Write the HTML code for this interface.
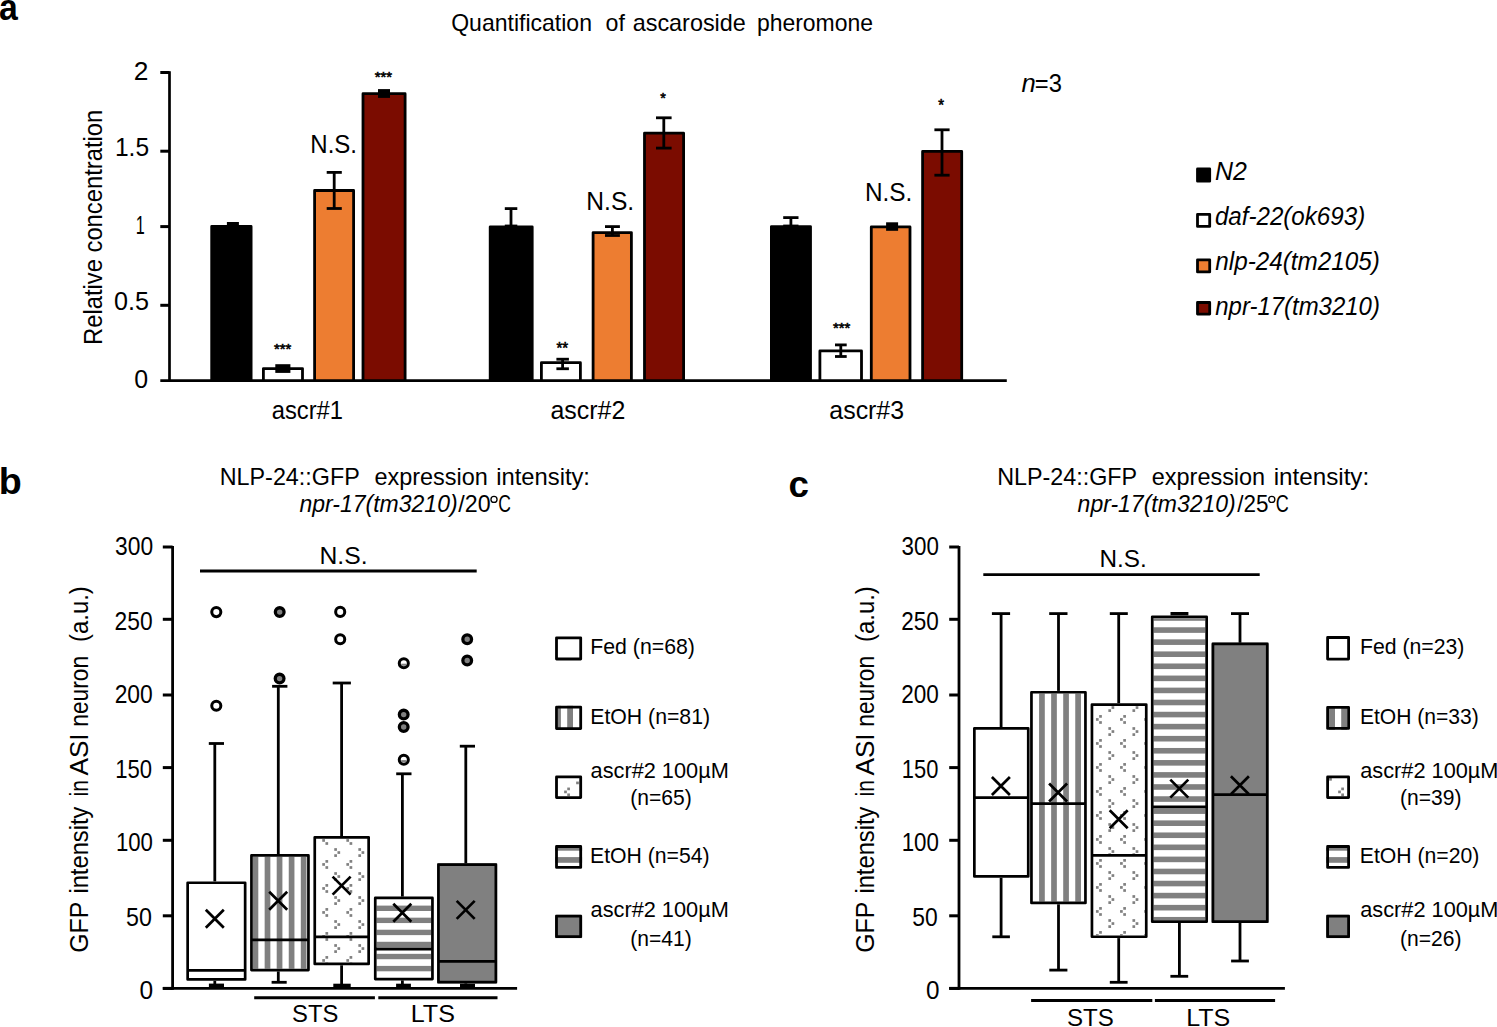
<!DOCTYPE html>
<html><head><meta charset="utf-8"><style>
html,body{margin:0;padding:0;background:#fff;width:1497px;height:1027px;overflow:hidden}
svg{display:block}
text{font-family:"Liberation Sans", sans-serif;fill:#000}
</style></head><body>
<svg width="1497" height="1027" viewBox="0 0 1497 1027">
<rect width="1497" height="1027" fill="#fff"/>
<text x="-1.01" y="19.50" font-size="36" font-weight="bold" textLength="18.80" lengthAdjust="spacingAndGlyphs">a</text>
<text x="451.21" y="31.30" font-size="24" textLength="140.79" lengthAdjust="spacingAndGlyphs">Quantification</text>
<text x="605.61" y="31.30" font-size="24" textLength="19.36" lengthAdjust="spacingAndGlyphs">of</text>
<text x="632.71" y="31.30" font-size="24" textLength="113.11" lengthAdjust="spacingAndGlyphs">ascaroside</text>
<text x="756.91" y="31.30" font-size="24" textLength="116.11" lengthAdjust="spacingAndGlyphs">pheromone</text>
<line x1="169.50" y1="71.20" x2="169.50" y2="382.00" stroke="#000" stroke-width="2.7" stroke-linecap="butt"/>
<line x1="160.30" y1="72.50" x2="169.50" y2="72.50" stroke="#000" stroke-width="3.0" stroke-linecap="butt"/>
<line x1="160.30" y1="151.20" x2="169.50" y2="151.20" stroke="#000" stroke-width="3.0" stroke-linecap="butt"/>
<line x1="160.30" y1="226.60" x2="169.50" y2="226.60" stroke="#000" stroke-width="3.0" stroke-linecap="butt"/>
<line x1="160.30" y1="305.30" x2="169.50" y2="305.30" stroke="#000" stroke-width="3.0" stroke-linecap="butt"/>
<line x1="160.30" y1="380.60" x2="1006.80" y2="380.60" stroke="#000" stroke-width="2.8" stroke-linecap="butt"/>
<text x="133.68" y="80.00" font-size="25" textLength="14.67" lengthAdjust="spacingAndGlyphs">2</text>
<text x="114.96" y="155.50" font-size="25" textLength="34.13" lengthAdjust="spacingAndGlyphs">1.5</text>
<text x="135.69" y="234.10" font-size="25" textLength="9.00" lengthAdjust="spacingAndGlyphs">1</text>
<text x="114.09" y="309.80" font-size="25" textLength="35.02" lengthAdjust="spacingAndGlyphs">0.5</text>
<text x="134.30" y="388.20" font-size="25" textLength="13.86" lengthAdjust="spacingAndGlyphs">0</text>
<text transform="rotate(-90)" x="-344.96" y="102.30" font-size="25" textLength="235.16" lengthAdjust="spacingAndGlyphs">Relative concentration</text>
<rect x="211.70" y="226.50" width="39.40" height="154.10" fill="#000" stroke="#000" stroke-width="2.8" stroke-linejoin="round"/>
<rect x="263.40" y="368.60" width="39.10" height="12.00" fill="#fff" stroke="#000" stroke-width="2.8" stroke-linejoin="round"/>
<rect x="314.60" y="190.50" width="39.00" height="190.10" fill="#ED7D31" stroke="#000" stroke-width="2.8" stroke-linejoin="round"/>
<rect x="363.00" y="93.70" width="42.10" height="286.90" fill="#7B0C00" stroke="#000" stroke-width="2.8" stroke-linejoin="round"/>
<rect x="490.20" y="226.80" width="42.00" height="153.80" fill="#000" stroke="#000" stroke-width="2.8" stroke-linejoin="round"/>
<rect x="541.40" y="362.70" width="39.00" height="17.90" fill="#fff" stroke="#000" stroke-width="2.8" stroke-linejoin="round"/>
<rect x="593.10" y="232.60" width="38.30" height="148.00" fill="#ED7D31" stroke="#000" stroke-width="2.8" stroke-linejoin="round"/>
<rect x="644.50" y="133.20" width="39.10" height="247.40" fill="#7B0C00" stroke="#000" stroke-width="2.8" stroke-linejoin="round"/>
<rect x="771.40" y="226.60" width="39.10" height="154.00" fill="#000" stroke="#000" stroke-width="2.8" stroke-linejoin="round"/>
<rect x="819.90" y="350.90" width="41.60" height="29.70" fill="#fff" stroke="#000" stroke-width="2.8" stroke-linejoin="round"/>
<rect x="871.30" y="226.90" width="38.70" height="153.70" fill="#ED7D31" stroke="#000" stroke-width="2.8" stroke-linejoin="round"/>
<rect x="922.60" y="151.40" width="39.10" height="229.20" fill="#7B0C00" stroke="#000" stroke-width="2.8" stroke-linejoin="round"/>
<rect x="226.90" y="222.00" width="12.00" height="6.00" fill="#000"/>
<rect x="275.30" y="364.20" width="15.10" height="8.70" fill="#000"/>
<line x1="334.20" y1="172.40" x2="334.20" y2="208.50" stroke="#000" stroke-width="2.8" stroke-linecap="butt"/>
<line x1="326.70" y1="172.40" x2="341.80" y2="172.40" stroke="#000" stroke-width="2.8" stroke-linecap="butt"/>
<line x1="326.70" y1="208.50" x2="341.80" y2="208.50" stroke="#000" stroke-width="2.8" stroke-linecap="butt"/>
<rect x="378.00" y="89.10" width="12.00" height="8.80" fill="#000"/>
<line x1="511.00" y1="208.60" x2="511.00" y2="226.00" stroke="#000" stroke-width="2.8" stroke-linecap="butt"/>
<line x1="504.80" y1="208.60" x2="517.30" y2="208.60" stroke="#000" stroke-width="2.8" stroke-linecap="butt"/>
<line x1="504.80" y1="226.00" x2="517.30" y2="226.00" stroke="#000" stroke-width="2.8" stroke-linecap="butt"/>
<line x1="562.60" y1="359.20" x2="562.60" y2="368.75" stroke="#000" stroke-width="2.8" stroke-linecap="butt"/>
<line x1="556.40" y1="359.20" x2="568.90" y2="359.20" stroke="#000" stroke-width="2.8" stroke-linecap="butt"/>
<line x1="556.40" y1="368.75" x2="568.90" y2="368.75" stroke="#000" stroke-width="2.8" stroke-linecap="butt"/>
<line x1="612.40" y1="226.60" x2="612.40" y2="235.50" stroke="#000" stroke-width="2.8" stroke-linecap="butt"/>
<line x1="605.00" y1="226.60" x2="619.90" y2="226.60" stroke="#000" stroke-width="2.8" stroke-linecap="butt"/>
<line x1="605.00" y1="235.50" x2="619.90" y2="235.50" stroke="#000" stroke-width="2.8" stroke-linecap="butt"/>
<line x1="663.80" y1="117.80" x2="663.80" y2="148.10" stroke="#000" stroke-width="2.8" stroke-linecap="butt"/>
<line x1="656.00" y1="117.80" x2="671.60" y2="117.80" stroke="#000" stroke-width="2.8" stroke-linecap="butt"/>
<line x1="656.00" y1="148.10" x2="671.60" y2="148.10" stroke="#000" stroke-width="2.8" stroke-linecap="butt"/>
<line x1="790.90" y1="217.60" x2="790.90" y2="226.00" stroke="#000" stroke-width="2.8" stroke-linecap="butt"/>
<line x1="783.20" y1="217.60" x2="798.50" y2="217.60" stroke="#000" stroke-width="2.8" stroke-linecap="butt"/>
<line x1="783.20" y1="226.00" x2="798.50" y2="226.00" stroke="#000" stroke-width="2.8" stroke-linecap="butt"/>
<line x1="840.80" y1="344.90" x2="840.80" y2="356.50" stroke="#000" stroke-width="2.8" stroke-linecap="butt"/>
<line x1="835.00" y1="344.90" x2="846.70" y2="344.90" stroke="#000" stroke-width="2.8" stroke-linecap="butt"/>
<line x1="835.00" y1="356.50" x2="846.70" y2="356.50" stroke="#000" stroke-width="2.8" stroke-linecap="butt"/>
<rect x="886.10" y="222.30" width="12.00" height="8.50" fill="#000"/>
<line x1="942.00" y1="129.80" x2="942.00" y2="175.20" stroke="#000" stroke-width="2.8" stroke-linecap="butt"/>
<line x1="934.40" y1="129.80" x2="949.60" y2="129.80" stroke="#000" stroke-width="2.8" stroke-linecap="butt"/>
<line x1="934.40" y1="175.20" x2="949.60" y2="175.20" stroke="#000" stroke-width="2.8" stroke-linecap="butt"/>
<text x="274.04" y="354.01" font-size="15.14" textLength="17.22" lengthAdjust="spacingAndGlyphs" stroke="#000" stroke-width="0.6">***</text>
<text x="374.64" y="81.91" font-size="15.14" textLength="17.42" lengthAdjust="spacingAndGlyphs" stroke="#000" stroke-width="0.6">***</text>
<text x="556.44" y="354.30" font-size="15.71" textLength="11.70" lengthAdjust="spacingAndGlyphs" stroke="#000" stroke-width="0.6">**</text>
<text x="660.15" y="103.11" font-size="15.14" textLength="5.59" lengthAdjust="spacingAndGlyphs" stroke="#000" stroke-width="0.6">*</text>
<text x="833.04" y="333.01" font-size="15.14" textLength="17.32" lengthAdjust="spacingAndGlyphs" stroke="#000" stroke-width="0.6">***</text>
<text x="938.24" y="110.80" font-size="15.71" textLength="5.81" lengthAdjust="spacingAndGlyphs" stroke="#000" stroke-width="0.6">*</text>
<text x="310.32" y="152.50" font-size="25" textLength="46.74" lengthAdjust="spacingAndGlyphs">N.S.</text>
<text x="586.37" y="210.00" font-size="25" textLength="47.84" lengthAdjust="spacingAndGlyphs">N.S.</text>
<text x="864.99" y="200.60" font-size="25" textLength="47.40" lengthAdjust="spacingAndGlyphs">N.S.</text>
<text x="271.69" y="418.60" font-size="25" textLength="71.27" lengthAdjust="spacingAndGlyphs">ascr#1</text>
<text x="550.44" y="418.60" font-size="25" textLength="74.84" lengthAdjust="spacingAndGlyphs">ascr#2</text>
<text x="829.34" y="418.60" font-size="25" textLength="74.75" lengthAdjust="spacingAndGlyphs">ascr#3</text>
<text x="1021.55" y="92.00" font-size="25" font-style="italic" textLength="14.23" lengthAdjust="spacingAndGlyphs">n</text>
<text x="1034.81" y="92.00" font-size="25" textLength="27.10" lengthAdjust="spacingAndGlyphs">=3</text>
<rect x="1197.50" y="169.00" width="12.20" height="12.20" fill="#000" stroke="#000" stroke-width="2.8" stroke-linejoin="round"/>
<text x="1214.95" y="180.10" font-size="25" font-style="italic" textLength="31.88" lengthAdjust="spacingAndGlyphs">N2</text>
<rect x="1197.50" y="214.40" width="12.20" height="12.00" fill="#fff" stroke="#000" stroke-width="2.8" stroke-linejoin="round"/>
<text x="1214.92" y="225.10" font-size="25" font-style="italic" textLength="150.26" lengthAdjust="spacingAndGlyphs">daf-22(ok693)</text>
<rect x="1197.50" y="259.80" width="12.20" height="12.10" fill="#ED7D31" stroke="#000" stroke-width="2.8" stroke-linejoin="round"/>
<text x="1215.28" y="270.10" font-size="25" font-style="italic" textLength="164.62" lengthAdjust="spacingAndGlyphs">nlp-24(tm2105)</text>
<rect x="1197.50" y="302.50" width="12.20" height="11.60" fill="#7B0C00" stroke="#000" stroke-width="2.8" stroke-linejoin="round"/>
<text x="1215.28" y="315.10" font-size="25" font-style="italic" textLength="164.60" lengthAdjust="spacingAndGlyphs">npr-17(tm3210)</text>
<text x="-1.25" y="494.30" font-size="36" font-weight="bold" textLength="22.98" lengthAdjust="spacingAndGlyphs">b</text>
<text x="219.78" y="485.30" font-size="24" textLength="139.94" lengthAdjust="spacingAndGlyphs">NLP-24::GFP</text>
<text x="374.40" y="485.30" font-size="24" textLength="113.34" lengthAdjust="spacingAndGlyphs">expression</text>
<text x="496.30" y="485.30" font-size="24" textLength="93.67" lengthAdjust="spacingAndGlyphs">intensity:</text>
<text x="299.50" y="511.50" font-size="24" font-style="italic" textLength="158.12" lengthAdjust="spacingAndGlyphs">npr-17(tm3210)</text>
<text x="458.30" y="511.50" font-size="24" textLength="32.28" lengthAdjust="spacingAndGlyphs">/20</text>
<circle cx="494.0" cy="499.4" r="3.05" fill="none" stroke="#000" stroke-width="1.3"/>
<text x="498.22" y="512.40" font-size="24.5" textLength="12.67" lengthAdjust="spacingAndGlyphs">C</text>
<line x1="172.60" y1="546.00" x2="172.60" y2="989.80" stroke="#000" stroke-width="2.8" stroke-linecap="butt"/>
<line x1="162.80" y1="988.40" x2="172.60" y2="988.40" stroke="#000" stroke-width="3.0" stroke-linecap="butt"/>
<line x1="162.80" y1="915.80" x2="172.60" y2="915.80" stroke="#000" stroke-width="3.0" stroke-linecap="butt"/>
<line x1="162.80" y1="840.30" x2="172.60" y2="840.30" stroke="#000" stroke-width="3.0" stroke-linecap="butt"/>
<line x1="162.80" y1="767.60" x2="172.60" y2="767.60" stroke="#000" stroke-width="3.0" stroke-linecap="butt"/>
<line x1="162.80" y1="695.00" x2="172.60" y2="695.00" stroke="#000" stroke-width="3.0" stroke-linecap="butt"/>
<line x1="162.80" y1="619.30" x2="172.60" y2="619.30" stroke="#000" stroke-width="3.0" stroke-linecap="butt"/>
<line x1="162.80" y1="547.00" x2="172.60" y2="547.00" stroke="#000" stroke-width="3.0" stroke-linecap="butt"/>
<line x1="162.80" y1="988.40" x2="517.10" y2="988.40" stroke="#000" stroke-width="2.8" stroke-linecap="butt"/>
<text x="139.62" y="999.10" font-size="25.2" textLength="13.63" lengthAdjust="spacingAndGlyphs">0</text>
<text x="126.07" y="926.20" font-size="25.2" textLength="25.86" lengthAdjust="spacingAndGlyphs">50</text>
<text x="115.94" y="851.30" font-size="25.2" textLength="37.02" lengthAdjust="spacingAndGlyphs">100</text>
<text x="115.35" y="778.40" font-size="25.2" textLength="36.80" lengthAdjust="spacingAndGlyphs">150</text>
<text x="114.66" y="702.90" font-size="25.2" textLength="38.12" lengthAdjust="spacingAndGlyphs">200</text>
<text x="114.56" y="630.40" font-size="25.2" textLength="38.02" lengthAdjust="spacingAndGlyphs">250</text>
<text x="115.05" y="554.50" font-size="25.2" textLength="38.03" lengthAdjust="spacingAndGlyphs">300</text>
<line x1="200.00" y1="571.00" x2="476.70" y2="571.00" stroke="#000" stroke-width="2.8" stroke-linecap="butt"/>
<text x="319.46" y="563.90" font-size="24" textLength="48.06" lengthAdjust="spacingAndGlyphs">N.S.</text>
<line x1="254.20" y1="997.70" x2="374.90" y2="997.70" stroke="#000" stroke-width="3.0" stroke-linecap="butt"/>
<line x1="378.30" y1="997.70" x2="497.50" y2="997.70" stroke="#000" stroke-width="3.0" stroke-linecap="butt"/>
<text x="292.03" y="1022.40" font-size="24" textLength="46.30" lengthAdjust="spacingAndGlyphs">STS</text>
<text x="410.73" y="1022.40" font-size="24" textLength="44.16" lengthAdjust="spacingAndGlyphs">LTS</text>
<line x1="214.80" y1="743.50" x2="214.80" y2="882.40" stroke="#000" stroke-width="2.8" stroke-linecap="butt"/>
<line x1="214.80" y1="979.80" x2="214.80" y2="985.90" stroke="#000" stroke-width="2.8" stroke-linecap="butt"/>
<line x1="208.80" y1="743.50" x2="224.00" y2="743.50" stroke="#000" stroke-width="2.8" stroke-linecap="butt"/>
<rect x="208.90" y="983.60" width="15.10" height="4.80" fill="#000"/>
<rect x="186.30" y="881.40" width="60.20" height="99.40" fill="#fff"/>
<rect x="187.65" y="882.75" width="57.50" height="96.70" fill="none" stroke="#000" stroke-width="2.7" stroke-linejoin="round"/>
<line x1="187.30" y1="970.40" x2="245.50" y2="970.40" stroke="#000" stroke-width="2.8" stroke-linecap="butt"/>
<path d="M205.80,909.80L223.80,927.80M205.80,927.80L223.80,909.80" stroke="#000" stroke-width="2.7" fill="none"/>
<circle cx="216.30" cy="612.10" r="4.55" fill="#fff" stroke="#000" stroke-width="3.0"/>
<circle cx="216.30" cy="705.80" r="4.55" fill="#fff" stroke="#000" stroke-width="3.0"/>
<line x1="278.30" y1="686.30" x2="278.30" y2="855.10" stroke="#000" stroke-width="2.8" stroke-linecap="butt"/>
<line x1="278.30" y1="970.40" x2="278.30" y2="982.30" stroke="#000" stroke-width="2.8" stroke-linecap="butt"/>
<line x1="272.10" y1="686.30" x2="287.40" y2="686.30" stroke="#000" stroke-width="2.8" stroke-linecap="butt"/>
<line x1="271.60" y1="982.30" x2="286.70" y2="982.30" stroke="#000" stroke-width="2.8" stroke-linecap="butt"/>
<rect x="250.10" y="854.10" width="59.70" height="117.30" fill="#fff"/>
<rect x="252.80" y="856.80" width="5.50" height="111.90" fill="#808080"/>
<rect x="264.65" y="856.80" width="5.70" height="111.90" fill="#808080"/>
<rect x="276.70" y="856.80" width="5.70" height="111.90" fill="#808080"/>
<rect x="288.75" y="856.80" width="5.70" height="111.90" fill="#808080"/>
<rect x="300.80" y="856.80" width="5.70" height="111.90" fill="#808080"/>
<rect x="251.45" y="855.45" width="57.00" height="114.60" fill="none" stroke="#000" stroke-width="2.7" stroke-linejoin="round"/>
<line x1="251.10" y1="939.90" x2="308.80" y2="939.90" stroke="#000" stroke-width="2.8" stroke-linecap="butt"/>
<path d="M269.20,891.70L287.20,909.70M269.20,909.70L287.20,891.70" stroke="#000" stroke-width="2.7" fill="none"/>
<circle cx="279.70" cy="612.10" r="4.35" fill="#808080" stroke="#000" stroke-width="3.3"/>
<circle cx="279.60" cy="678.60" r="4.35" fill="#808080" stroke="#000" stroke-width="3.3"/>
<line x1="341.60" y1="683.00" x2="341.60" y2="837.00" stroke="#000" stroke-width="2.8" stroke-linecap="butt"/>
<line x1="341.60" y1="964.30" x2="341.60" y2="986.00" stroke="#000" stroke-width="2.8" stroke-linecap="butt"/>
<line x1="332.70" y1="683.00" x2="350.90" y2="683.00" stroke="#000" stroke-width="2.8" stroke-linecap="butt"/>
<rect x="333.30" y="983.70" width="17.40" height="4.70" fill="#000"/>
<rect x="313.40" y="836.00" width="56.60" height="129.30" fill="#fff"/>
<g fill="#808080"><rect x="325.45" y="838.70" width="2.70" height="0.05"/><rect x="322.25" y="839.10" width="2.70" height="2.70"/><rect x="325.45" y="842.15" width="2.70" height="2.70"/><rect x="334.25" y="848.15" width="2.70" height="2.70"/><rect x="337.45" y="851.20" width="2.70" height="2.70"/><rect x="334.25" y="854.25" width="2.70" height="2.70"/><rect x="325.45" y="860.05" width="2.70" height="2.70"/><rect x="322.25" y="863.10" width="2.70" height="2.70"/><rect x="325.45" y="866.15" width="2.70" height="2.70"/><rect x="334.25" y="872.15" width="2.70" height="2.70"/><rect x="337.45" y="875.20" width="2.70" height="2.70"/><rect x="334.25" y="878.25" width="2.70" height="2.70"/><rect x="325.45" y="884.05" width="2.70" height="2.70"/><rect x="322.25" y="887.10" width="2.70" height="2.70"/><rect x="325.45" y="890.15" width="2.70" height="2.70"/><rect x="334.25" y="896.15" width="2.70" height="2.70"/><rect x="337.45" y="899.20" width="2.70" height="2.70"/><rect x="334.25" y="902.25" width="2.70" height="2.70"/><rect x="325.45" y="908.05" width="2.70" height="2.70"/><rect x="322.25" y="911.10" width="2.70" height="2.70"/><rect x="325.45" y="914.15" width="2.70" height="2.70"/><rect x="334.25" y="920.15" width="2.70" height="2.70"/><rect x="337.45" y="923.20" width="2.70" height="2.70"/><rect x="334.25" y="926.25" width="2.70" height="2.70"/><rect x="325.45" y="932.05" width="2.70" height="2.70"/><rect x="322.25" y="935.10" width="2.70" height="2.70"/><rect x="325.45" y="938.15" width="2.70" height="2.70"/><rect x="334.25" y="944.15" width="2.70" height="2.70"/><rect x="337.45" y="947.20" width="2.70" height="2.70"/><rect x="334.25" y="950.25" width="2.70" height="2.70"/><rect x="325.45" y="956.05" width="2.70" height="2.70"/><rect x="322.25" y="959.10" width="2.70" height="2.70"/><rect x="325.45" y="962.15" width="2.70" height="0.45"/><rect x="349.55" y="838.70" width="2.70" height="0.05"/><rect x="346.35" y="839.10" width="2.70" height="2.70"/><rect x="349.55" y="842.15" width="2.70" height="2.70"/><rect x="358.35" y="848.15" width="2.70" height="2.70"/><rect x="361.55" y="851.20" width="2.70" height="2.70"/><rect x="358.35" y="854.25" width="2.70" height="2.70"/><rect x="349.55" y="860.05" width="2.70" height="2.70"/><rect x="346.35" y="863.10" width="2.70" height="2.70"/><rect x="349.55" y="866.15" width="2.70" height="2.70"/><rect x="358.35" y="872.15" width="2.70" height="2.70"/><rect x="361.55" y="875.20" width="2.70" height="2.70"/><rect x="358.35" y="878.25" width="2.70" height="2.70"/><rect x="349.55" y="884.05" width="2.70" height="2.70"/><rect x="346.35" y="887.10" width="2.70" height="2.70"/><rect x="349.55" y="890.15" width="2.70" height="2.70"/><rect x="358.35" y="896.15" width="2.70" height="2.70"/><rect x="361.55" y="899.20" width="2.70" height="2.70"/><rect x="358.35" y="902.25" width="2.70" height="2.70"/><rect x="349.55" y="908.05" width="2.70" height="2.70"/><rect x="346.35" y="911.10" width="2.70" height="2.70"/><rect x="349.55" y="914.15" width="2.70" height="2.70"/><rect x="358.35" y="920.15" width="2.70" height="2.70"/><rect x="361.55" y="923.20" width="2.70" height="2.70"/><rect x="358.35" y="926.25" width="2.70" height="2.70"/><rect x="349.55" y="932.05" width="2.70" height="2.70"/><rect x="346.35" y="935.10" width="2.70" height="2.70"/><rect x="349.55" y="938.15" width="2.70" height="2.70"/><rect x="358.35" y="944.15" width="2.70" height="2.70"/><rect x="361.55" y="947.20" width="2.70" height="2.70"/><rect x="358.35" y="950.25" width="2.70" height="2.70"/><rect x="349.55" y="956.05" width="2.70" height="2.70"/><rect x="346.35" y="959.10" width="2.70" height="2.70"/><rect x="349.55" y="962.15" width="2.70" height="0.45"/></g>
<rect x="314.75" y="837.35" width="53.90" height="126.60" fill="none" stroke="#000" stroke-width="2.7" stroke-linejoin="round"/>
<line x1="314.40" y1="936.80" x2="369.00" y2="936.80" stroke="#000" stroke-width="2.8" stroke-linecap="butt"/>
<path d="M332.60,876.60L350.60,894.60M332.60,894.60L350.60,876.60" stroke="#000" stroke-width="2.7" fill="none"/>
<circle cx="340.20" cy="611.90" r="4.55" fill="#fff" stroke="#000" stroke-width="3.0"/>
<circle cx="340.20" cy="639.20" r="4.55" fill="#fff" stroke="#000" stroke-width="3.0"/>
<line x1="402.40" y1="773.80" x2="402.40" y2="897.60" stroke="#000" stroke-width="2.8" stroke-linecap="butt"/>
<line x1="402.40" y1="979.40" x2="402.40" y2="986.00" stroke="#000" stroke-width="2.8" stroke-linecap="butt"/>
<line x1="396.20" y1="773.80" x2="411.50" y2="773.80" stroke="#000" stroke-width="2.8" stroke-linecap="butt"/>
<rect x="396.10" y="983.70" width="14.80" height="4.70" fill="#000"/>
<rect x="373.90" y="896.60" width="59.90" height="83.80" fill="#fff"/>
<rect x="376.60" y="905.60" width="54.50" height="5.40" fill="#808080"/>
<rect x="376.60" y="917.66" width="54.50" height="5.40" fill="#808080"/>
<rect x="376.60" y="929.72" width="54.50" height="5.40" fill="#808080"/>
<rect x="376.60" y="941.78" width="54.50" height="5.40" fill="#808080"/>
<rect x="376.60" y="953.84" width="54.50" height="5.40" fill="#808080"/>
<rect x="376.60" y="965.90" width="54.50" height="5.40" fill="#808080"/>
<rect x="375.25" y="897.95" width="57.20" height="81.10" fill="none" stroke="#000" stroke-width="2.7" stroke-linejoin="round"/>
<line x1="374.90" y1="949.00" x2="432.80" y2="949.00" stroke="#000" stroke-width="2.8" stroke-linecap="butt"/>
<path d="M393.30,903.80L411.30,921.80M393.30,921.80L411.30,903.80" stroke="#000" stroke-width="2.7" fill="none"/>
<circle cx="403.80" cy="663.30" r="4.55" fill="#fff"/>
<rect x="401.20" y="663.70" width="5.20" height="2.10" fill="#808080"/>
<circle cx="403.80" cy="663.30" r="4.55" fill="none" stroke="#000" stroke-width="3.0"/>
<circle cx="403.70" cy="714.60" r="4.35" fill="#808080" stroke="#000" stroke-width="3.3"/>
<circle cx="403.70" cy="727.00" r="4.35" fill="#808080" stroke="#000" stroke-width="3.3"/>
<circle cx="403.80" cy="759.70" r="4.55" fill="#fff"/>
<rect x="401.20" y="760.10" width="5.20" height="2.10" fill="#808080"/>
<circle cx="403.80" cy="759.70" r="4.55" fill="none" stroke="#000" stroke-width="3.0"/>
<line x1="465.80" y1="746.20" x2="465.80" y2="864.20" stroke="#000" stroke-width="2.8" stroke-linecap="butt"/>
<line x1="465.80" y1="982.50" x2="465.80" y2="986.00" stroke="#000" stroke-width="2.8" stroke-linecap="butt"/>
<line x1="459.80" y1="746.20" x2="475.00" y2="746.20" stroke="#000" stroke-width="2.8" stroke-linecap="butt"/>
<rect x="460.00" y="983.70" width="15.00" height="4.70" fill="#000"/>
<rect x="437.10" y="863.20" width="60.10" height="120.30" fill="#808080"/>
<rect x="438.45" y="864.55" width="57.40" height="117.60" fill="none" stroke="#000" stroke-width="2.7" stroke-linejoin="round"/>
<line x1="438.10" y1="961.30" x2="496.20" y2="961.30" stroke="#000" stroke-width="2.8" stroke-linecap="butt"/>
<path d="M456.70,900.90L474.70,918.90M456.70,918.90L474.70,900.90" stroke="#000" stroke-width="2.7" fill="none"/>
<circle cx="467.20" cy="639.30" r="4.35" fill="#808080" stroke="#000" stroke-width="3.3"/>
<circle cx="467.20" cy="660.50" r="4.35" fill="#808080" stroke="#000" stroke-width="3.3"/>
<text transform="rotate(-90)" x="-952.84" y="88.00" font-size="25" textLength="51.06" lengthAdjust="spacingAndGlyphs">GFP</text>
<text transform="rotate(-90)" x="-893.60" y="88.00" font-size="25" textLength="86.99" lengthAdjust="spacingAndGlyphs">intensity</text>
<text transform="rotate(-90)" x="-796.42" y="88.00" font-size="25" textLength="16.41" lengthAdjust="spacingAndGlyphs">in</text>
<text transform="rotate(-90)" x="-775.57" y="88.00" font-size="25" textLength="42.17" lengthAdjust="spacingAndGlyphs">ASI</text>
<text transform="rotate(-90)" x="-726.63" y="88.00" font-size="25" textLength="70.64" lengthAdjust="spacingAndGlyphs">neuron</text>
<text transform="rotate(-90)" x="-641.89" y="88.00" font-size="25" textLength="55.62" lengthAdjust="spacingAndGlyphs">(a.u.)</text>
<rect x="555.10" y="636.40" width="27.00" height="24.00" fill="#fff"/>
<rect x="556.50" y="637.80" width="24.20" height="21.20" fill="none" stroke="#000" stroke-width="2.8" stroke-linejoin="round"/>
<rect x="555.10" y="705.80" width="27.00" height="24.20" fill="#fff"/>
<rect x="558.00" y="705.80" width="2.90" height="24.20" fill="#808080"/>
<rect x="567.20" y="705.80" width="5.80" height="24.20" fill="#808080"/>
<rect x="556.50" y="707.20" width="24.20" height="21.40" fill="none" stroke="#000" stroke-width="2.8" stroke-linejoin="round"/>
<rect x="555.10" y="775.50" width="27.00" height="23.50" fill="#fff"/>
<rect x="576.15" y="781.55" width="2.70" height="2.70" fill="#808080"/>
<rect x="567.25" y="787.55" width="2.70" height="2.70" fill="#808080"/>
<rect x="564.15" y="790.55" width="2.70" height="2.70" fill="#808080"/>
<rect x="567.25" y="793.45" width="2.70" height="2.70" fill="#808080"/>
<rect x="556.50" y="776.90" width="24.20" height="20.70" fill="none" stroke="#000" stroke-width="2.8" stroke-linejoin="round"/>
<rect x="555.10" y="845.10" width="27.00" height="23.70" fill="#fff"/>
<rect x="555.10" y="847.80" width="27.00" height="2.90" fill="#808080"/>
<rect x="555.10" y="857.10" width="27.00" height="5.70" fill="#808080"/>
<rect x="556.50" y="846.50" width="24.20" height="20.90" fill="none" stroke="#000" stroke-width="2.8" stroke-linejoin="round"/>
<rect x="555.10" y="914.80" width="27.00" height="23.30" fill="#808080"/>
<rect x="556.50" y="916.20" width="24.20" height="20.50" fill="none" stroke="#000" stroke-width="2.8" stroke-linejoin="round"/>
<text x="590.24" y="654.40" font-size="22" textLength="104.68" lengthAdjust="spacingAndGlyphs">Fed (n=68)</text>
<text x="590.25" y="724.10" font-size="22" textLength="119.81" lengthAdjust="spacingAndGlyphs">EtOH (n=81)</text>
<text x="590.58" y="778.40" font-size="22" textLength="138.21" lengthAdjust="spacingAndGlyphs">ascr#2 100µM</text>
<text x="630.28" y="805.10" font-size="22" textLength="61.45" lengthAdjust="spacingAndGlyphs">(n=65)</text>
<text x="590.05" y="863.10" font-size="22" textLength="119.60" lengthAdjust="spacingAndGlyphs">EtOH (n=54)</text>
<text x="590.58" y="916.50" font-size="22" textLength="138.21" lengthAdjust="spacingAndGlyphs">ascr#2 100µM</text>
<text x="630.28" y="945.90" font-size="22" textLength="61.45" lengthAdjust="spacingAndGlyphs">(n=41)</text>
<text x="788.43" y="497.30" font-size="36" font-weight="bold" textLength="20.42" lengthAdjust="spacingAndGlyphs">c</text>
<text x="997.18" y="485.30" font-size="24" textLength="139.94" lengthAdjust="spacingAndGlyphs">NLP-24::GFP</text>
<text x="1151.80" y="485.30" font-size="24" textLength="113.34" lengthAdjust="spacingAndGlyphs">expression</text>
<text x="1273.67" y="485.30" font-size="24" textLength="95.55" lengthAdjust="spacingAndGlyphs">intensity:</text>
<text x="1077.60" y="511.50" font-size="24" font-style="italic" textLength="158.12" lengthAdjust="spacingAndGlyphs">npr-17(tm3210)</text>
<text x="1237.20" y="511.50" font-size="24" textLength="31.20" lengthAdjust="spacingAndGlyphs">/25</text>
<circle cx="1271.8" cy="499.4" r="3.05" fill="none" stroke="#000" stroke-width="1.3"/>
<text x="1275.80" y="512.30" font-size="24.5" textLength="13.02" lengthAdjust="spacingAndGlyphs">C</text>
<line x1="959.00" y1="546.00" x2="959.00" y2="989.80" stroke="#000" stroke-width="2.8" stroke-linecap="butt"/>
<line x1="949.20" y1="988.40" x2="959.00" y2="988.40" stroke="#000" stroke-width="3.0" stroke-linecap="butt"/>
<line x1="949.20" y1="915.80" x2="959.00" y2="915.80" stroke="#000" stroke-width="3.0" stroke-linecap="butt"/>
<line x1="949.20" y1="840.30" x2="959.00" y2="840.30" stroke="#000" stroke-width="3.0" stroke-linecap="butt"/>
<line x1="949.20" y1="767.60" x2="959.00" y2="767.60" stroke="#000" stroke-width="3.0" stroke-linecap="butt"/>
<line x1="949.20" y1="695.00" x2="959.00" y2="695.00" stroke="#000" stroke-width="3.0" stroke-linecap="butt"/>
<line x1="949.20" y1="619.30" x2="959.00" y2="619.30" stroke="#000" stroke-width="3.0" stroke-linecap="butt"/>
<line x1="949.20" y1="547.00" x2="959.00" y2="547.00" stroke="#000" stroke-width="3.0" stroke-linecap="butt"/>
<line x1="949.20" y1="988.40" x2="1284.90" y2="988.40" stroke="#000" stroke-width="2.8" stroke-linecap="butt"/>
<text x="925.93" y="999.10" font-size="25.2" textLength="13.51" lengthAdjust="spacingAndGlyphs">0</text>
<text x="912.19" y="926.20" font-size="25.2" textLength="25.43" lengthAdjust="spacingAndGlyphs">50</text>
<text x="901.63" y="851.30" font-size="25.2" textLength="37.23" lengthAdjust="spacingAndGlyphs">100</text>
<text x="901.86" y="778.40" font-size="25.2" textLength="36.48" lengthAdjust="spacingAndGlyphs">150</text>
<text x="901.27" y="702.90" font-size="25.2" textLength="37.59" lengthAdjust="spacingAndGlyphs">200</text>
<text x="901.27" y="630.40" font-size="25.2" textLength="37.59" lengthAdjust="spacingAndGlyphs">250</text>
<text x="901.56" y="554.50" font-size="25.2" textLength="37.30" lengthAdjust="spacingAndGlyphs">300</text>
<line x1="983.30" y1="574.60" x2="1259.70" y2="574.60" stroke="#000" stroke-width="2.8" stroke-linecap="butt"/>
<text x="1099.49" y="566.90" font-size="24" textLength="47.29" lengthAdjust="spacingAndGlyphs">N.S.</text>
<line x1="1031.10" y1="1000.60" x2="1152.30" y2="1000.60" stroke="#000" stroke-width="3.0" stroke-linecap="butt"/>
<line x1="1154.90" y1="1000.60" x2="1275.10" y2="1000.60" stroke="#000" stroke-width="3.0" stroke-linecap="butt"/>
<text x="1067.02" y="1026.00" font-size="24" textLength="46.82" lengthAdjust="spacingAndGlyphs">STS</text>
<text x="1186.23" y="1026.00" font-size="24" textLength="44.05" lengthAdjust="spacingAndGlyphs">LTS</text>
<line x1="1001.10" y1="613.60" x2="1001.10" y2="728.10" stroke="#000" stroke-width="2.8" stroke-linecap="butt"/>
<line x1="1001.10" y1="876.80" x2="1001.10" y2="936.80" stroke="#000" stroke-width="2.8" stroke-linecap="butt"/>
<line x1="991.90" y1="613.60" x2="1010.10" y2="613.60" stroke="#000" stroke-width="2.8" stroke-linecap="butt"/>
<line x1="992.30" y1="936.80" x2="1009.90" y2="936.80" stroke="#000" stroke-width="2.8" stroke-linecap="butt"/>
<rect x="973.00" y="727.10" width="56.60" height="150.70" fill="#fff"/>
<rect x="974.35" y="728.45" width="53.90" height="148.00" fill="none" stroke="#000" stroke-width="2.7" stroke-linejoin="round"/>
<line x1="974.00" y1="797.70" x2="1028.60" y2="797.70" stroke="#000" stroke-width="2.8" stroke-linecap="butt"/>
<path d="M991.90,777.00L1009.90,795.00M991.90,795.00L1009.90,777.00" stroke="#000" stroke-width="2.7" fill="none"/>
<line x1="1058.50" y1="613.60" x2="1058.50" y2="691.90" stroke="#000" stroke-width="2.8" stroke-linecap="butt"/>
<line x1="1058.50" y1="903.30" x2="1058.50" y2="970.10" stroke="#000" stroke-width="2.8" stroke-linecap="butt"/>
<line x1="1049.20" y1="613.60" x2="1067.50" y2="613.60" stroke="#000" stroke-width="2.8" stroke-linecap="butt"/>
<line x1="1049.30" y1="970.10" x2="1067.40" y2="970.10" stroke="#000" stroke-width="2.8" stroke-linecap="butt"/>
<rect x="1030.10" y="690.90" width="56.70" height="213.40" fill="#fff"/>
<rect x="1039.10" y="693.60" width="5.70" height="208.00" fill="#808080"/>
<rect x="1051.15" y="693.60" width="5.70" height="208.00" fill="#808080"/>
<rect x="1063.20" y="693.60" width="5.70" height="208.00" fill="#808080"/>
<rect x="1075.25" y="693.60" width="5.70" height="208.00" fill="#808080"/>
<rect x="1031.45" y="692.25" width="54.00" height="210.70" fill="none" stroke="#000" stroke-width="2.7" stroke-linejoin="round"/>
<line x1="1031.10" y1="803.70" x2="1085.80" y2="803.70" stroke="#000" stroke-width="2.8" stroke-linecap="butt"/>
<path d="M1049.10,783.50L1067.10,801.50M1049.10,801.50L1067.10,783.50" stroke="#000" stroke-width="2.7" fill="none"/>
<line x1="1118.70" y1="613.60" x2="1118.70" y2="704.20" stroke="#000" stroke-width="2.8" stroke-linecap="butt"/>
<line x1="1118.70" y1="937.10" x2="1118.70" y2="982.30" stroke="#000" stroke-width="2.8" stroke-linecap="butt"/>
<line x1="1109.80" y1="613.60" x2="1127.80" y2="613.60" stroke="#000" stroke-width="2.8" stroke-linecap="butt"/>
<line x1="1109.80" y1="982.30" x2="1127.60" y2="982.30" stroke="#000" stroke-width="2.8" stroke-linecap="butt"/>
<rect x="1090.60" y="703.20" width="57.00" height="234.90" fill="#fff"/>
<g fill="#808080"><rect x="1111.55" y="706.20" width="2.70" height="2.70"/><rect x="1108.35" y="709.25" width="2.70" height="2.70"/><rect x="1099.15" y="715.05" width="2.70" height="2.70"/><rect x="1095.95" y="718.10" width="2.70" height="2.70"/><rect x="1099.15" y="721.15" width="2.70" height="2.70"/><rect x="1108.35" y="727.15" width="2.70" height="2.70"/><rect x="1111.55" y="730.20" width="2.70" height="2.70"/><rect x="1108.35" y="733.25" width="2.70" height="2.70"/><rect x="1099.15" y="739.05" width="2.70" height="2.70"/><rect x="1095.95" y="742.10" width="2.70" height="2.70"/><rect x="1099.15" y="745.15" width="2.70" height="2.70"/><rect x="1108.35" y="751.15" width="2.70" height="2.70"/><rect x="1111.55" y="754.20" width="2.70" height="2.70"/><rect x="1108.35" y="757.25" width="2.70" height="2.70"/><rect x="1099.15" y="763.05" width="2.70" height="2.70"/><rect x="1095.95" y="766.10" width="2.70" height="2.70"/><rect x="1099.15" y="769.15" width="2.70" height="2.70"/><rect x="1108.35" y="775.15" width="2.70" height="2.70"/><rect x="1111.55" y="778.20" width="2.70" height="2.70"/><rect x="1108.35" y="781.25" width="2.70" height="2.70"/><rect x="1099.15" y="787.05" width="2.70" height="2.70"/><rect x="1095.95" y="790.10" width="2.70" height="2.70"/><rect x="1099.15" y="793.15" width="2.70" height="2.70"/><rect x="1108.35" y="799.15" width="2.70" height="2.70"/><rect x="1111.55" y="802.20" width="2.70" height="2.70"/><rect x="1108.35" y="805.25" width="2.70" height="2.70"/><rect x="1099.15" y="811.05" width="2.70" height="2.70"/><rect x="1095.95" y="814.10" width="2.70" height="2.70"/><rect x="1099.15" y="817.15" width="2.70" height="2.70"/><rect x="1108.35" y="823.15" width="2.70" height="2.70"/><rect x="1111.55" y="826.20" width="2.70" height="2.70"/><rect x="1108.35" y="829.25" width="2.70" height="2.70"/><rect x="1099.15" y="835.05" width="2.70" height="2.70"/><rect x="1095.95" y="838.10" width="2.70" height="2.70"/><rect x="1099.15" y="841.15" width="2.70" height="2.70"/><rect x="1108.35" y="847.15" width="2.70" height="2.70"/><rect x="1111.55" y="850.20" width="2.70" height="2.70"/><rect x="1108.35" y="853.25" width="2.70" height="2.70"/><rect x="1099.15" y="859.05" width="2.70" height="2.70"/><rect x="1095.95" y="862.10" width="2.70" height="2.70"/><rect x="1099.15" y="865.15" width="2.70" height="2.70"/><rect x="1108.35" y="871.15" width="2.70" height="2.70"/><rect x="1111.55" y="874.20" width="2.70" height="2.70"/><rect x="1108.35" y="877.25" width="2.70" height="2.70"/><rect x="1099.15" y="883.05" width="2.70" height="2.70"/><rect x="1095.95" y="886.10" width="2.70" height="2.70"/><rect x="1099.15" y="889.15" width="2.70" height="2.70"/><rect x="1108.35" y="895.15" width="2.70" height="2.70"/><rect x="1111.55" y="898.20" width="2.70" height="2.70"/><rect x="1108.35" y="901.25" width="2.70" height="2.70"/><rect x="1099.15" y="907.05" width="2.70" height="2.70"/><rect x="1095.95" y="910.10" width="2.70" height="2.70"/><rect x="1099.15" y="913.15" width="2.70" height="2.70"/><rect x="1108.35" y="919.15" width="2.70" height="2.70"/><rect x="1111.55" y="922.20" width="2.70" height="2.70"/><rect x="1108.35" y="925.25" width="2.70" height="2.70"/><rect x="1099.15" y="931.05" width="2.70" height="2.70"/><rect x="1095.95" y="934.10" width="2.70" height="1.30"/><rect x="1135.65" y="706.20" width="2.70" height="2.70"/><rect x="1132.45" y="709.25" width="2.70" height="2.70"/><rect x="1123.25" y="715.05" width="2.70" height="2.70"/><rect x="1120.05" y="718.10" width="2.70" height="2.70"/><rect x="1123.25" y="721.15" width="2.70" height="2.70"/><rect x="1132.45" y="727.15" width="2.70" height="2.70"/><rect x="1135.65" y="730.20" width="2.70" height="2.70"/><rect x="1132.45" y="733.25" width="2.70" height="2.70"/><rect x="1123.25" y="739.05" width="2.70" height="2.70"/><rect x="1120.05" y="742.10" width="2.70" height="2.70"/><rect x="1123.25" y="745.15" width="2.70" height="2.70"/><rect x="1132.45" y="751.15" width="2.70" height="2.70"/><rect x="1135.65" y="754.20" width="2.70" height="2.70"/><rect x="1132.45" y="757.25" width="2.70" height="2.70"/><rect x="1123.25" y="763.05" width="2.70" height="2.70"/><rect x="1120.05" y="766.10" width="2.70" height="2.70"/><rect x="1123.25" y="769.15" width="2.70" height="2.70"/><rect x="1132.45" y="775.15" width="2.70" height="2.70"/><rect x="1135.65" y="778.20" width="2.70" height="2.70"/><rect x="1132.45" y="781.25" width="2.70" height="2.70"/><rect x="1123.25" y="787.05" width="2.70" height="2.70"/><rect x="1120.05" y="790.10" width="2.70" height="2.70"/><rect x="1123.25" y="793.15" width="2.70" height="2.70"/><rect x="1132.45" y="799.15" width="2.70" height="2.70"/><rect x="1135.65" y="802.20" width="2.70" height="2.70"/><rect x="1132.45" y="805.25" width="2.70" height="2.70"/><rect x="1123.25" y="811.05" width="2.70" height="2.70"/><rect x="1120.05" y="814.10" width="2.70" height="2.70"/><rect x="1123.25" y="817.15" width="2.70" height="2.70"/><rect x="1132.45" y="823.15" width="2.70" height="2.70"/><rect x="1135.65" y="826.20" width="2.70" height="2.70"/><rect x="1132.45" y="829.25" width="2.70" height="2.70"/><rect x="1123.25" y="835.05" width="2.70" height="2.70"/><rect x="1120.05" y="838.10" width="2.70" height="2.70"/><rect x="1123.25" y="841.15" width="2.70" height="2.70"/><rect x="1132.45" y="847.15" width="2.70" height="2.70"/><rect x="1135.65" y="850.20" width="2.70" height="2.70"/><rect x="1132.45" y="853.25" width="2.70" height="2.70"/><rect x="1123.25" y="859.05" width="2.70" height="2.70"/><rect x="1120.05" y="862.10" width="2.70" height="2.70"/><rect x="1123.25" y="865.15" width="2.70" height="2.70"/><rect x="1132.45" y="871.15" width="2.70" height="2.70"/><rect x="1135.65" y="874.20" width="2.70" height="2.70"/><rect x="1132.45" y="877.25" width="2.70" height="2.70"/><rect x="1123.25" y="883.05" width="2.70" height="2.70"/><rect x="1120.05" y="886.10" width="2.70" height="2.70"/><rect x="1123.25" y="889.15" width="2.70" height="2.70"/><rect x="1132.45" y="895.15" width="2.70" height="2.70"/><rect x="1135.65" y="898.20" width="2.70" height="2.70"/><rect x="1132.45" y="901.25" width="2.70" height="2.70"/><rect x="1123.25" y="907.05" width="2.70" height="2.70"/><rect x="1120.05" y="910.10" width="2.70" height="2.70"/><rect x="1123.25" y="913.15" width="2.70" height="2.70"/><rect x="1132.45" y="919.15" width="2.70" height="2.70"/><rect x="1135.65" y="922.20" width="2.70" height="2.70"/><rect x="1132.45" y="925.25" width="2.70" height="2.70"/><rect x="1123.25" y="931.05" width="2.70" height="2.70"/><rect x="1120.05" y="934.10" width="2.70" height="1.30"/><rect x="1144.15" y="718.10" width="0.75" height="2.70"/><rect x="1144.15" y="742.10" width="0.75" height="2.70"/><rect x="1144.15" y="766.10" width="0.75" height="2.70"/><rect x="1144.15" y="790.10" width="0.75" height="2.70"/><rect x="1144.15" y="814.10" width="0.75" height="2.70"/><rect x="1144.15" y="838.10" width="0.75" height="2.70"/><rect x="1144.15" y="862.10" width="0.75" height="2.70"/><rect x="1144.15" y="886.10" width="0.75" height="2.70"/><rect x="1144.15" y="910.10" width="0.75" height="2.70"/><rect x="1144.15" y="934.10" width="0.75" height="1.30"/></g>
<rect x="1091.95" y="704.55" width="54.30" height="232.20" fill="none" stroke="#000" stroke-width="2.7" stroke-linejoin="round"/>
<line x1="1091.60" y1="855.40" x2="1146.60" y2="855.40" stroke="#000" stroke-width="2.8" stroke-linecap="butt"/>
<path d="M1109.70,810.30L1127.70,828.30M1109.70,828.30L1127.70,810.30" stroke="#000" stroke-width="2.7" fill="none"/>
<line x1="1179.40" y1="613.60" x2="1179.40" y2="616.40" stroke="#000" stroke-width="2.8" stroke-linecap="butt"/>
<line x1="1179.40" y1="922.00" x2="1179.40" y2="976.30" stroke="#000" stroke-width="2.8" stroke-linecap="butt"/>
<rect x="1170.50" y="612.00" width="17.90" height="4.20" fill="#000"/>
<line x1="1170.40" y1="976.30" x2="1188.20" y2="976.30" stroke="#000" stroke-width="2.8" stroke-linecap="butt"/>
<rect x="1150.90" y="615.40" width="57.10" height="307.60" fill="#fff"/>
<rect x="1153.60" y="618.10" width="51.70" height="2.70" fill="#808080"/>
<rect x="1153.60" y="627.27" width="51.70" height="5.60" fill="#808080"/>
<rect x="1153.60" y="639.34" width="51.70" height="5.60" fill="#808080"/>
<rect x="1153.60" y="651.41" width="51.70" height="5.60" fill="#808080"/>
<rect x="1153.60" y="663.48" width="51.70" height="5.60" fill="#808080"/>
<rect x="1153.60" y="675.55" width="51.70" height="5.60" fill="#808080"/>
<rect x="1153.60" y="687.62" width="51.70" height="5.60" fill="#808080"/>
<rect x="1153.60" y="699.69" width="51.70" height="5.60" fill="#808080"/>
<rect x="1153.60" y="711.76" width="51.70" height="5.60" fill="#808080"/>
<rect x="1153.60" y="723.83" width="51.70" height="5.60" fill="#808080"/>
<rect x="1153.60" y="735.90" width="51.70" height="5.60" fill="#808080"/>
<rect x="1153.60" y="747.97" width="51.70" height="5.60" fill="#808080"/>
<rect x="1153.60" y="760.04" width="51.70" height="5.60" fill="#808080"/>
<rect x="1153.60" y="772.11" width="51.70" height="5.60" fill="#808080"/>
<rect x="1153.60" y="784.18" width="51.70" height="5.60" fill="#808080"/>
<rect x="1153.60" y="796.25" width="51.70" height="5.60" fill="#808080"/>
<rect x="1153.60" y="808.32" width="51.70" height="5.60" fill="#808080"/>
<rect x="1153.60" y="820.39" width="51.70" height="5.60" fill="#808080"/>
<rect x="1153.60" y="832.46" width="51.70" height="5.60" fill="#808080"/>
<rect x="1153.60" y="844.53" width="51.70" height="5.60" fill="#808080"/>
<rect x="1153.60" y="856.60" width="51.70" height="5.60" fill="#808080"/>
<rect x="1153.60" y="868.67" width="51.70" height="5.60" fill="#808080"/>
<rect x="1153.60" y="880.74" width="51.70" height="5.60" fill="#808080"/>
<rect x="1153.60" y="892.81" width="51.70" height="5.60" fill="#808080"/>
<rect x="1153.60" y="904.88" width="51.70" height="5.60" fill="#808080"/>
<rect x="1153.60" y="916.95" width="51.70" height="3.35" fill="#808080"/>
<rect x="1152.25" y="616.75" width="54.40" height="304.90" fill="none" stroke="#000" stroke-width="2.7" stroke-linejoin="round"/>
<line x1="1151.90" y1="806.80" x2="1207.00" y2="806.80" stroke="#000" stroke-width="2.8" stroke-linecap="butt"/>
<path d="M1170.30,779.60L1188.30,797.60M1170.30,797.60L1188.30,779.60" stroke="#000" stroke-width="2.7" fill="none"/>
<line x1="1240.00" y1="613.60" x2="1240.00" y2="643.60" stroke="#000" stroke-width="2.8" stroke-linecap="butt"/>
<line x1="1240.00" y1="922.00" x2="1240.00" y2="961.00" stroke="#000" stroke-width="2.8" stroke-linecap="butt"/>
<line x1="1231.00" y1="613.60" x2="1249.00" y2="613.60" stroke="#000" stroke-width="2.8" stroke-linecap="butt"/>
<line x1="1231.10" y1="961.00" x2="1248.90" y2="961.00" stroke="#000" stroke-width="2.8" stroke-linecap="butt"/>
<rect x="1211.60" y="642.60" width="57.00" height="280.40" fill="#808080"/>
<rect x="1212.95" y="643.95" width="54.30" height="277.70" fill="none" stroke="#000" stroke-width="2.7" stroke-linejoin="round"/>
<line x1="1212.60" y1="794.60" x2="1267.60" y2="794.60" stroke="#000" stroke-width="2.8" stroke-linecap="butt"/>
<path d="M1230.90,776.20L1248.90,794.20M1230.90,794.20L1248.90,776.20" stroke="#000" stroke-width="2.7" fill="none"/>
<text transform="rotate(-90)" x="-952.84" y="874.00" font-size="25" textLength="51.06" lengthAdjust="spacingAndGlyphs">GFP</text>
<text transform="rotate(-90)" x="-893.60" y="874.00" font-size="25" textLength="86.99" lengthAdjust="spacingAndGlyphs">intensity</text>
<text transform="rotate(-90)" x="-796.42" y="874.00" font-size="25" textLength="16.41" lengthAdjust="spacingAndGlyphs">in</text>
<text transform="rotate(-90)" x="-775.57" y="874.00" font-size="25" textLength="42.17" lengthAdjust="spacingAndGlyphs">ASI</text>
<text transform="rotate(-90)" x="-726.63" y="874.00" font-size="25" textLength="70.64" lengthAdjust="spacingAndGlyphs">neuron</text>
<text transform="rotate(-90)" x="-641.89" y="874.00" font-size="25" textLength="55.62" lengthAdjust="spacingAndGlyphs">(a.u.)</text>
<rect x="1326.20" y="636.10" width="23.80" height="24.40" fill="#fff"/>
<rect x="1327.60" y="637.50" width="21.00" height="21.60" fill="none" stroke="#000" stroke-width="2.8" stroke-linejoin="round"/>
<rect x="1326.20" y="706.00" width="23.80" height="23.80" fill="#fff"/>
<rect x="1329.00" y="706.00" width="6.00" height="23.80" fill="#808080"/>
<rect x="1341.20" y="706.00" width="5.90" height="23.80" fill="#808080"/>
<rect x="1327.60" y="707.40" width="21.00" height="21.00" fill="none" stroke="#000" stroke-width="2.8" stroke-linejoin="round"/>
<rect x="1326.20" y="775.50" width="23.80" height="23.50" fill="#fff"/>
<rect x="1329.15" y="777.95" width="2.70" height="2.70" fill="#808080"/>
<rect x="1341.25" y="787.55" width="2.70" height="2.70" fill="#808080"/>
<rect x="1338.15" y="790.55" width="2.70" height="2.70" fill="#808080"/>
<rect x="1341.25" y="793.45" width="2.70" height="2.70" fill="#808080"/>
<rect x="1327.60" y="776.90" width="21.00" height="20.70" fill="none" stroke="#000" stroke-width="2.8" stroke-linejoin="round"/>
<rect x="1326.20" y="845.10" width="23.80" height="23.70" fill="#fff"/>
<rect x="1326.20" y="847.80" width="23.80" height="2.90" fill="#808080"/>
<rect x="1326.20" y="857.10" width="23.80" height="5.70" fill="#808080"/>
<rect x="1327.60" y="846.50" width="21.00" height="20.90" fill="none" stroke="#000" stroke-width="2.8" stroke-linejoin="round"/>
<rect x="1326.20" y="914.80" width="23.80" height="23.30" fill="#808080"/>
<rect x="1327.60" y="916.20" width="21.00" height="20.50" fill="none" stroke="#000" stroke-width="2.8" stroke-linejoin="round"/>
<text x="1359.95" y="654.10" font-size="22" textLength="104.47" lengthAdjust="spacingAndGlyphs">Fed (n=23)</text>
<text x="1359.96" y="724.20" font-size="22" textLength="118.88" lengthAdjust="spacingAndGlyphs">EtOH (n=33)</text>
<text x="1360.28" y="778.40" font-size="22" textLength="138.21" lengthAdjust="spacingAndGlyphs">ascr#2 100µM</text>
<text x="1399.98" y="805.10" font-size="22" textLength="61.45" lengthAdjust="spacingAndGlyphs">(n=39)</text>
<text x="1359.75" y="863.10" font-size="22" textLength="119.60" lengthAdjust="spacingAndGlyphs">EtOH (n=20)</text>
<text x="1360.28" y="916.50" font-size="22" textLength="138.21" lengthAdjust="spacingAndGlyphs">ascr#2 100µM</text>
<text x="1399.98" y="945.90" font-size="22" textLength="61.45" lengthAdjust="spacingAndGlyphs">(n=26)</text>
</svg>
</body></html>
